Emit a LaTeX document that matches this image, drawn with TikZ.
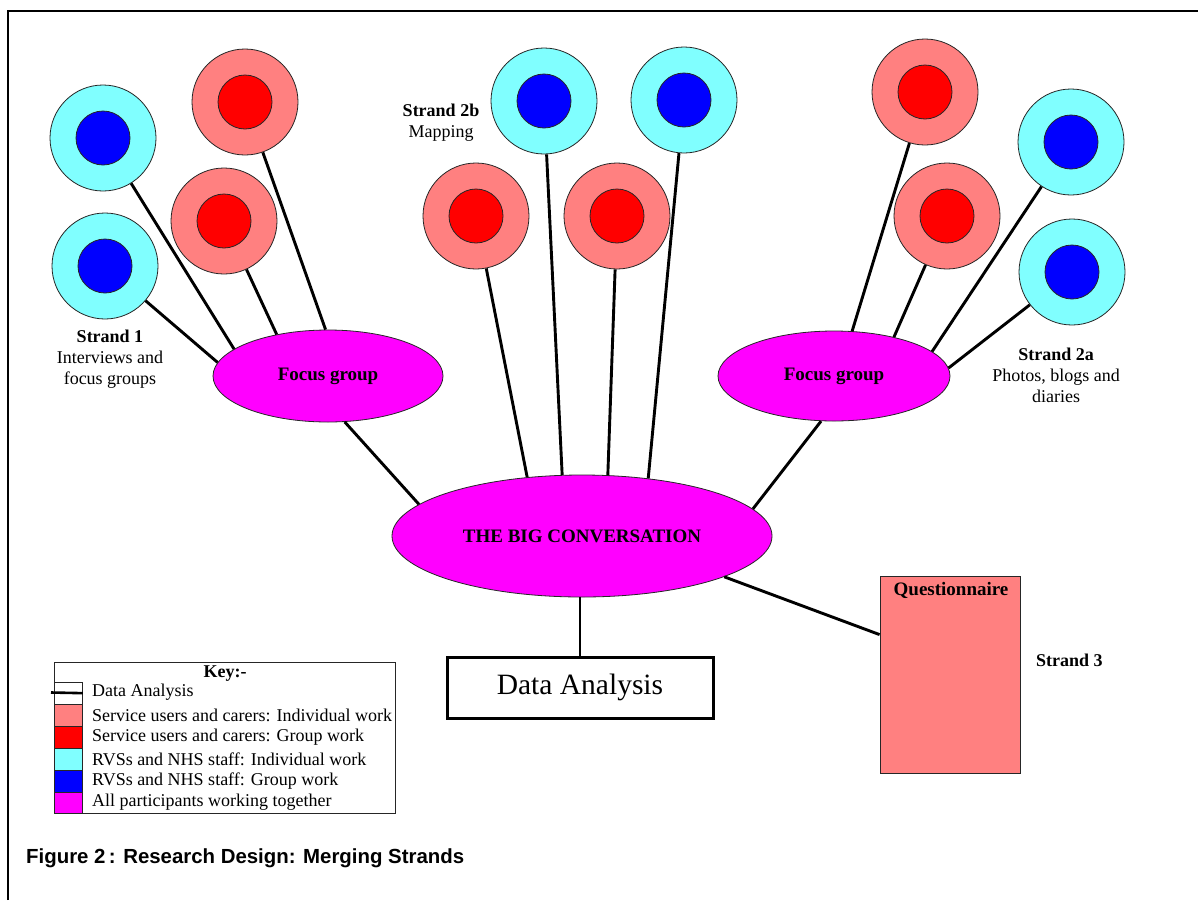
\documentclass[tikz,border=0pt]{standalone}
\usepackage{fontspec}
\setmainfont{Liberation Serif}
\newfontfamily\capfont{Liberation Sans}
\usetikzlibrary{shapes.geometric,calc}
\definecolor{salmon}{HTML}{FF8080}
\definecolor{pureRed}{HTML}{FF0000}
\definecolor{aqua}{HTML}{80FFFF}
\definecolor{pureBlue}{HTML}{0000FF}
\definecolor{mag}{HTML}{FF00FF}
\begin{document}
\begin{tikzpicture}[x=1pt,y=-1pt,
  every node/.style={font=\fontsize{18}{21}\selectfont},
  outerS/.style={circle, draw=black!85, line width=0.8pt, fill=salmon, minimum size=106pt, inner sep=0pt},
  outerC/.style={circle, draw=black!85, line width=0.8pt, fill=aqua, minimum size=106pt, inner sep=0pt},
  innerR/.style={circle, draw=black!85, line width=0.8pt, fill=pureRed, minimum size=54pt, inner sep=0pt},
  innerB/.style={circle, draw=black!85, line width=0.8pt, fill=pureBlue, minimum size=54pt, inner sep=0pt},
  bubble/.style={ellipse, draw=black!85, line width=0.8pt, fill=mag, inner sep=0pt, font=\fontsize{19}{22}\selectfont\bfseries},
  link/.style={line width=2.9pt, black},
  lbl/.style={align=center, inner sep=0pt, font=\fontsize{18}{21}\selectfont},
  keytxt/.style={anchor=west, inner sep=0pt, font=\fontsize{18}{21}\selectfont},
  swatch/.style={draw=black!85, line width=0.8pt, minimum width=28pt, minimum height=21.5pt, inner sep=0pt, anchor=north west}
]
\useasboundingbox (0,0) rectangle (1198,900);
\fill[white] (0,0) rectangle (1198,900);
% frame
\draw[line width=2pt] (8,900) -- (8,11) -- (1198,11);

% central nodes
\node[bubble, minimum width=380pt, minimum height=122pt] (bc) at (582,536) {THE BIG CONVERSATION};
\node[bubble, minimum width=230pt, minimum height=92pt] (fgL) at (328,376) {Focus group};
\node[bubble, minimum width=232pt, minimum height=90pt] (fgR) at (834,376) {Focus group};
\node[draw=black, line width=3pt, minimum width=266pt, minimum height=61pt, inner sep=0pt, font=\fontsize{29.5}{32}\selectfont] (da) at (580,687.5) {Data Analysis};
\node[draw=black!85, line width=0.8pt, fill=salmon, minimum width=140pt, minimum height=197pt, inner sep=0pt] (q) at (950,674.5) {};
\node[inner sep=0pt, font=\fontsize{19}{22}\selectfont\bfseries] (qt) at (951,590) {Questionnaire};

% left group circles
\node[outerC] (c1) at (103,138) {};
\node[innerB] (c1i) at (103,138) {};
\node[outerC] (c2) at (105,266) {};
\node[innerB] (c2i) at (105,266) {};
\node[outerS] (c3) at (245,102) {};
\node[innerR] (c3i) at (245,102) {};
\node[outerS] (c4) at (224,221) {};
\node[innerR] (c4i) at (224,221) {};
% middle group
\node[outerS] (c5) at (476,216) {};
\node[innerR] (c5i) at (476,216) {};
\node[outerC] (c6) at (544,101) {};
\node[innerB] (c6i) at (544,101) {};
\node[outerS] (c7) at (617,216) {};
\node[innerR] (c7i) at (617,216) {};
\node[outerC] (c8) at (684,100) {};
\node[innerB] (c8i) at (684,100) {};
% right group
\node[outerS] (c9) at (925,92) {};
\node[innerR] (c9i) at (925,92) {};
\node[outerC] (c10) at (1071,142) {};
\node[innerB] (c10i) at (1071,142) {};
\node[outerS] (c11) at (947,216) {};
\node[innerR] (c11i) at (947,216) {};
\node[outerC] (c12) at (1072,272) {};
\node[innerB] (c12i) at (1072,272) {};

% connectors
\draw[link] (c2) -- (fgL.173.4);
\draw[link] (c1) -- (fgL.164.7);
\draw[link] (c4) -- (fgL.141);
\draw[link] (c3) -- (fgL.93.5);
\draw[link] (fgL.-70) -- (bc.169);
\draw[link] (c5) -- (bc.133.5);
\draw[link] (c6) -- (bc.108);
\draw[link] (c7) -- (bc.67.5);
\draw[link] (c8) -- (bc.41.4);
\draw[link] (c9) -- (fgR.68.6);
\draw[link] (c11) -- (fgR.33);
\draw[link] (c10) -- (fgR.14.4);
\draw[link] (c12) -- (fgR.4);
\draw[link] (fgR.-106.6) -- (bc.9);
\draw[link] (bc.-16.8) -- ([yshift=-59pt]q.north west);
\draw[link] (bc.south -| da.north) -- (da.north);

% strand labels
\node[lbl] (s1) at (110,359) {\textbf{Strand 1}\\Interviews and\\focus groups};
\node[lbl] (s2b) at (441,123) {\textbf{Strand 2b}\\Mapping};
\node[lbl] (s2a) at (1056,375) {\textbf{Strand 2a}\\Photos, blogs and\\diaries};
\node[inner sep=0pt, anchor=west, font=\fontsize{18}{21}\selectfont\bfseries] (s3) at (1036,660) {Strand 3};

% key
\node[draw=black!85, line width=1pt, minimum width=341pt, minimum height=151pt, inner sep=0pt, anchor=north west] (key) at (54,662) {};
\node[inner sep=0pt, font=\fontsize{18}{21}\selectfont\bfseries] (keyt) at (225,674) {Key:-};
\node[swatch, fill=white] (k0) at (54,682) {};
\coordinate (k0l) at (51,692.5);
\draw[line width=2.6pt] (k0l) -- (k0.east);
\node[swatch, fill=salmon] (k1) at (54,704) {};
\node[swatch, fill=pureRed] (k2) at (54,726) {};
\node[swatch, fill=aqua] (k3) at (54,748) {};
\node[swatch, fill=pureBlue] (k4) at (54,770) {};
\node[swatch, fill=mag, minimum height=21pt] (k5) at (54,792) {};
\node[keytxt] (t0) at (92,692) {Data Analysis};
\node[keytxt] (t1) at (92,715) {Service users and carers: Individual work};
\node[keytxt] (t2) at (92,737) {Service users and carers: Group work};
\node[keytxt] (t3) at (92,759) {RVSs and NHS staff: Individual work};
\node[keytxt] (t4) at (92,781) {RVSs and NHS staff: Group work};
\node[keytxt] (t5) at (92,802) {All participants working together};

% caption
\node[anchor=west, inner sep=0pt, font=\capfont\bfseries\fontsize{20.4}{24}\selectfont] (cap) at (26,858) {Figure 2\,: Research Design: Merging Strands};
\end{tikzpicture}
\end{document}
